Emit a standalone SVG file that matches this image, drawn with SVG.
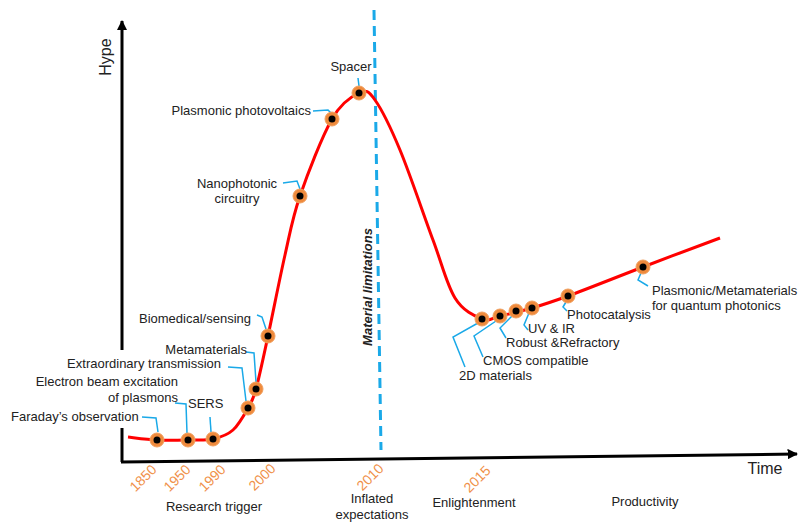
<svg xmlns="http://www.w3.org/2000/svg" width="801" height="523" viewBox="0 0 801 523">
<defs>
<style>
text{font-family:"Liberation Sans",Arial,sans-serif;font-size:13px;fill:#222}
.yr{fill:#F0914A;font-size:14px}
.ld{fill:none;stroke:#1AA9E8;stroke-width:1.5}
.ax{stroke:#000;stroke-width:3;fill:none}
.dot circle.o{fill:#EF8A3C;stroke:#F0A060;stroke-width:1}
.dot circle.i{fill:#000}
</style>
<marker id="ah" viewBox="0 0 10 10" refX="9" refY="5" markerWidth="3.5" markerHeight="3.5" orient="auto" markerUnits="strokeWidth">
<path d="M0,0 L10,5 L0,10 z" fill="#000"/>
</marker>
<g id="d" class="dot"><circle class="o" r="7"/><circle class="i" r="3.5"/></g>
</defs>
<rect width="801" height="523" fill="#fff"/>
<g id="axes">
<path class="ax" d="M122,462 L122,428"/>
<path class="ax" d="M122,350 L122,21" marker-end="url(#ah)"/>
<path class="ax" d="M121,462 L797,454" marker-end="url(#ah)"/>
<text x="111" y="57" text-anchor="middle" transform="rotate(-90 111 57)" style="font-size:16px">Hype</text>
<text x="765" y="474" text-anchor="middle" style="font-size:16px">Time</text>
</g>
<g id="limit">
<path d="M374,10 L381,450" stroke="#1AA9E8" stroke-width="3" stroke-dasharray="10,6" fill="none"/>
<text x="372" y="287" text-anchor="middle" transform="rotate(-90 372 287)" font-weight="bold" font-style="italic">Material limitations</text>
</g>
<g id="curve">
<path d="M128,437 C132.8,437.5 147,439.5 157,440 C167,440.5 178.7,440.2 188,440 C197.3,439.8 205.5,440.7 213,439 C220.5,437.3 227.2,435.2 233,430 C238.8,424.8 244.2,414.8 248,408 C251.8,401.2 252.7,401 256,389 C259.3,377 263.2,358.3 268,336 C272.8,313.7 279.7,278.3 285,255 C290.3,231.7 292.2,218.7 300,196 C307.8,173.3 322.2,136.2 332,119 C341.8,101.8 351.8,96.2 359,93 C366.2,89.8 368.2,90.5 375,100 C381.8,109.5 390.3,126.7 400,150 C409.7,173.3 423.8,215.3 433,240 C442.2,264.7 446.8,284.8 455,298 C463.2,311.2 474.5,316 482,319 C489.5,322 491.7,317.8 500,316 C508.3,314.2 520.7,311.3 532,308 C543.3,304.7 549.5,302.8 568,296 C586.5,289.2 617.7,276.7 643,267 C668.3,257.3 707.2,242.8 720,238" fill="none" stroke="#FF0000" stroke-width="3"/>
</g>
<g id="connectors">
<path class="ld" d="M142,417 L156,418 L158,432"/>
<path class="ld" d="M175,403 L186,404 L187,433"/>
<path class="ld" d="M210,417 L211,432"/>
<path class="ld" d="M228,367 L242,368 L246,401"/>
<path class="ld" d="M246,352 L254,353 L256,382"/>
<path class="ld" d="M257,315 L262,317 L266,329"/>
<path class="ld" d="M283,183 L297,181 L300,189"/>
<path class="ld" d="M313,111 L328,110 L331,113"/>
<path class="ld" d="M358,78 L359,86"/>
<path class="ld" d="M478,323 L453,337 L465,367"/>
<path class="ld" d="M496,321 L474,336 L483,357"/>
<path class="ld" d="M512,316 L500,328 L506,338"/>
<path class="ld" d="M529,313 L524,325 L528,330"/>
<path class="ld" d="M566,302 L563,307 L567,311"/>
<path class="ld" d="M641,273 L638,280 L648,286"/>
</g>
<g id="n-faraday"><use href="#d" x="157" y="440"/><text x="11" y="421">Faraday’s observation</text></g>
<g id="n-electron"><use href="#d" x="188" y="440"/><text x="178" y="386" text-anchor="end">Electron beam excitation</text><text x="178" y="402" text-anchor="end">of plasmons</text></g>
<g id="n-sers"><use href="#d" x="213" y="439"/><text x="188" y="408">SERS</text></g>
<g id="n-extra"><use href="#d" x="248" y="408"/><text x="221" y="368" text-anchor="end">Extraordinary transmission</text></g>
<g id="n-meta"><use href="#d" x="256" y="389"/><text x="247" y="354" text-anchor="end">Metamaterials</text></g>
<g id="n-bio"><use href="#d" x="268" y="336"/><text x="251" y="323" text-anchor="end">Biomedical/sensing</text></g>
<g id="n-nano"><use href="#d" x="300" y="196"/><text x="237" y="188" text-anchor="middle">Nanophotonic</text><text x="237" y="203" text-anchor="middle">circuitry</text></g>
<g id="n-pv"><use href="#d" x="332" y="119"/><text x="311" y="115" text-anchor="end">Plasmonic photovoltaics</text></g>
<g id="n-spacer"><use href="#d" x="359" y="93"/><text x="351" y="71" text-anchor="middle">Spacer</text></g>
<g id="n-2d"><use href="#d" x="482" y="319"/><text x="459" y="380">2D materials</text></g>
<g id="n-cmos"><use href="#d" x="500" y="316"/><text x="483" y="365">CMOS compatible</text></g>
<g id="n-robust"><use href="#d" x="516" y="311"/><text x="506" y="347">Robust &amp;Refractory</text></g>
<g id="n-uv"><use href="#d" x="532" y="308"/><text x="528" y="333">UV &amp; IR</text></g>
<g id="n-photo"><use href="#d" x="568" y="296"/><text x="567" y="319">Photocatalysis</text></g>
<g id="n-quantum"><use href="#d" x="643" y="267"/><text x="652" y="295">Plasmonic/Metamaterials</text><text x="652" y="310">for quantum photonics</text></g>
<g id="years">
<text class="yr" x="143" y="483" text-anchor="middle" transform="rotate(-45 143 478)">1850</text>
<text class="yr" x="177" y="483" text-anchor="middle" transform="rotate(-45 177 478)">1950</text>
<text class="yr" x="212" y="483" text-anchor="middle" transform="rotate(-45 212 478)">1990</text>
<text class="yr" x="262" y="482" text-anchor="middle" transform="rotate(-45 262 477)">2000</text>
<text class="yr" x="370" y="482" text-anchor="middle" transform="rotate(-45 370 477)">2010</text>
<text class="yr" x="477" y="484" text-anchor="middle" transform="rotate(-45 477 479)">2015</text>
</g>
<g id="phases">
<text x="214" y="511" text-anchor="middle">Research trigger</text>
<text x="372" y="503" text-anchor="middle">Inflated</text>
<text x="372" y="519" text-anchor="middle">expectations</text>
<text x="474" y="507" text-anchor="middle">Enlightenment</text>
<text x="645" y="506" text-anchor="middle">Productivity</text>
</g>
</svg>
